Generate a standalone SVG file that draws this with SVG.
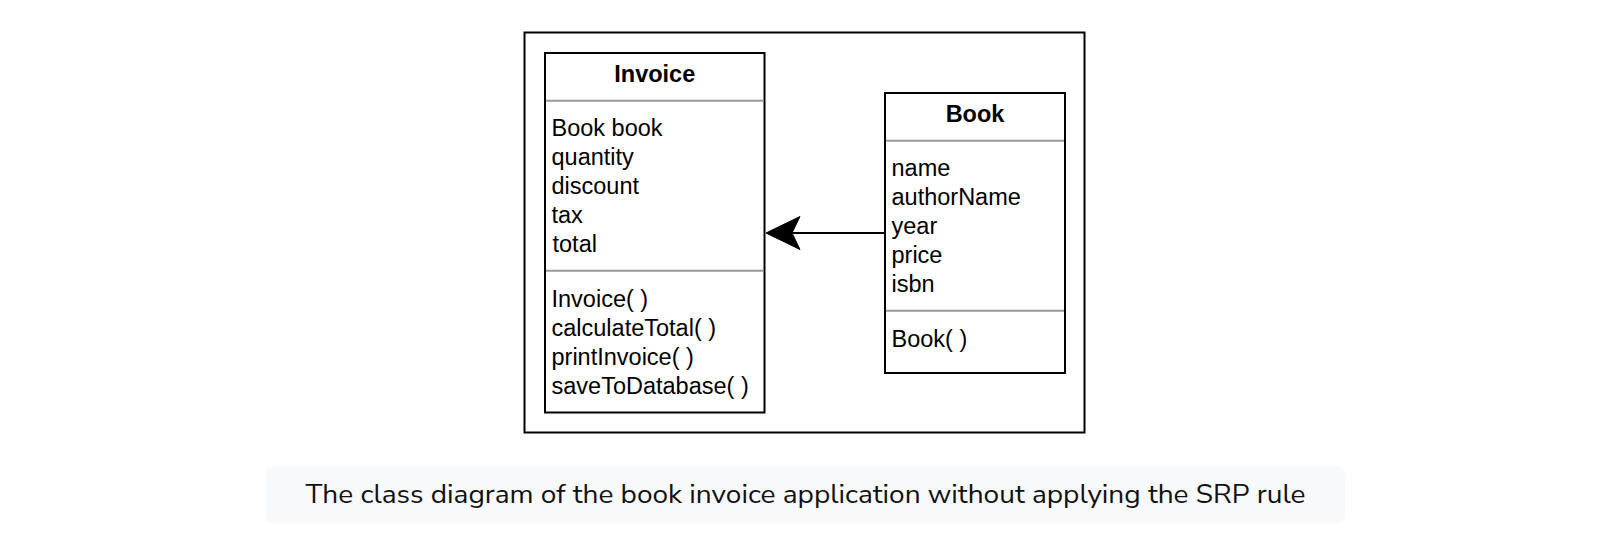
<svg xmlns="http://www.w3.org/2000/svg" width="1622" height="542" viewBox="0 0 1622 542">
  <style>
    .box { fill: #ffffff; stroke: #000000; stroke-width: 2; }
    .sep { stroke: #999999; stroke-width: 2; }
    .t { font-family: "Liberation Sans", Arial, Helvetica, sans-serif; font-size: 23.5px; fill: #000000; }
    .title { font-weight: bold; text-anchor: middle; }
    .edge { stroke: #000000; stroke-width: 2; fill: none; }
    .caption { font-family: "Nunito Sans", Lato, "Open Sans", sans-serif; font-size: 25px; fill: #111111; text-anchor: middle; }
  </style>
  <rect width="1622" height="542" fill="#ffffff"/>
  <g id="frame">
    <rect x="524.5" y="32.5" width="560" height="400" fill="none" stroke="#000000" stroke-width="2"/>
  </g>
  <g id="invoice">
    <rect class="box" x="545" y="53" width="219.5" height="359.5"/>
    <text class="t title" x="654.75" y="81.5">Invoice</text>
    <line class="sep" x1="546" y1="100.7" x2="763.5" y2="100.7"/>
    <text class="t" x="551.5" y="136">Book book</text>
    <text class="t" x="551.5" y="165">quantity</text>
    <text class="t" x="551.5" y="194">discount</text>
    <text class="t" x="551.5" y="223">tax</text>
    <text class="t" x="552.5" y="252">total</text>
    <line class="sep" x1="546" y1="270.7" x2="763.5" y2="270.7"/>
    <text class="t" x="551.5" y="307">Invoice( )</text>
    <text class="t" x="551.5" y="336">calculateTotal( )</text>
    <text class="t" x="551.5" y="365">printInvoice( )</text>
    <text class="t" x="551.5" y="394">saveToDatabase( )</text>
  </g>
  <g id="book">
    <rect class="box" x="885" y="93" width="180" height="280"/>
    <text class="t title" x="975" y="121.5">Book</text>
    <line class="sep" x1="886" y1="140.7" x2="1064" y2="140.7"/>
    <text class="t" x="891.5" y="176">name</text>
    <text class="t" x="891.5" y="205">authorName</text>
    <text class="t" x="891.5" y="234">year</text>
    <text class="t" x="891.5" y="263">price</text>
    <text class="t" x="891.5" y="292">isbn</text>
    <line class="sep" x1="886" y1="310.7" x2="1064" y2="310.7"/>
    <text class="t" x="891.5" y="346.5">Book( )</text>
  </g>
  <g id="connectors">
    <line class="edge" x1="885" y1="233" x2="792" y2="233"/>
    <polygon points="766,233 800,216.5 792,233 800,249.5" fill="#000000" stroke="#000000" stroke-width="1" stroke-linejoin="miter"/>
  </g>
  <g id="caption">
    <rect x="265.5" y="466" width="1079.5" height="57.5" rx="8" ry="8" fill="#f8f9fb"/>
    <text class="caption" x="805.5" y="503" textLength="1000" lengthAdjust="spacingAndGlyphs">The class diagram of the book invoice application without applying the SRP rule</text>
  </g>
</svg>
